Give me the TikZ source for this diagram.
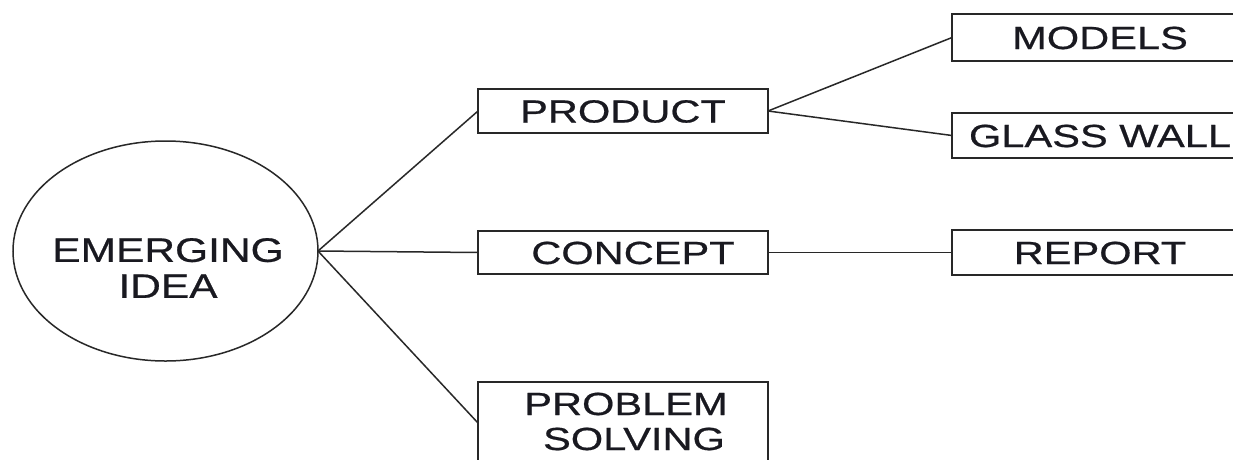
\documentclass[tikz,border=0pt]{standalone}
\usepackage{fontspec}
\usetikzlibrary{shapes.geometric}
% Arial-width sans, widened horizontally and slightly thickened
\newfontfamily\boxfont[FakeStretch=1.3,FakeBold=0.6]{Liberation Sans}
\newfontfamily\ideafont[FakeStretch=1.25,FakeBold=0.6]{Liberation Sans}
\definecolor{ink}{RGB}{25,25,32}
\definecolor{edge}{RGB}{40,40,40}
\begin{document}
\begin{tikzpicture}[x=1pt,y=-1pt,
  every node/.style={inner sep=0pt, outer sep=0pt, text=ink},
  box/.style={draw=edge, line width=1.5pt, rectangle, minimum width=290pt,
    font=\boxfont\fontsize{32}{35}\selectfont, text height=23pt, text depth=0pt, align=center},
  sidebox/.style={box, minimum width=296pt},
  link/.style={draw=edge, line width=1.5pt}]
\useasboundingbox (0,0) rectangle (1233,459);
\clip (0,0) rectangle (1233,459);
\fill[white] (0,0) rectangle (1233,459);

% central idea
\node[ellipse, draw=edge, line width=1.5pt, minimum width=305pt, minimum height=220pt] (idea) at (165.5,251) {};
\node[font=\ideafont\fontsize{34}{36}\selectfont, align=center, text depth=0pt] (ideatext) at (168,268) {EMERGING\\IDEA};

% first level
\node[box, minimum height=44pt] (product) at (623,111) {PRODUCT};
\node[box, minimum height=43pt] (concept) at (623,252.5) {\hspace*{20pt}CONCEPT};
\node[box, minimum height=82pt, text height=54pt] (problem) at (623,423) {\hspace*{6pt}PROBLEM\\\hspace*{22pt}SOLVING};

% second level
\node[sidebox, minimum height=47pt] (models) at (1100,37.5) {MODELS};
\node[sidebox, minimum height=45pt] (glass) at (1100,135.5) {GLASS WALL};
\node[sidebox, minimum height=45pt] (report) at (1100,252.5) {REPORT};

% connectors
\draw[link] (idea.east) -- (product.west);
\draw[link] (idea.east) -- (concept.west);
\draw[link] (idea.east) -- (problem.west);
\draw[link] (product.east) -- (models.west);
\draw[link] (product.east) -- (glass.west);
\draw[link] (concept.east) -- (report.west);
\end{tikzpicture}
\end{document}
